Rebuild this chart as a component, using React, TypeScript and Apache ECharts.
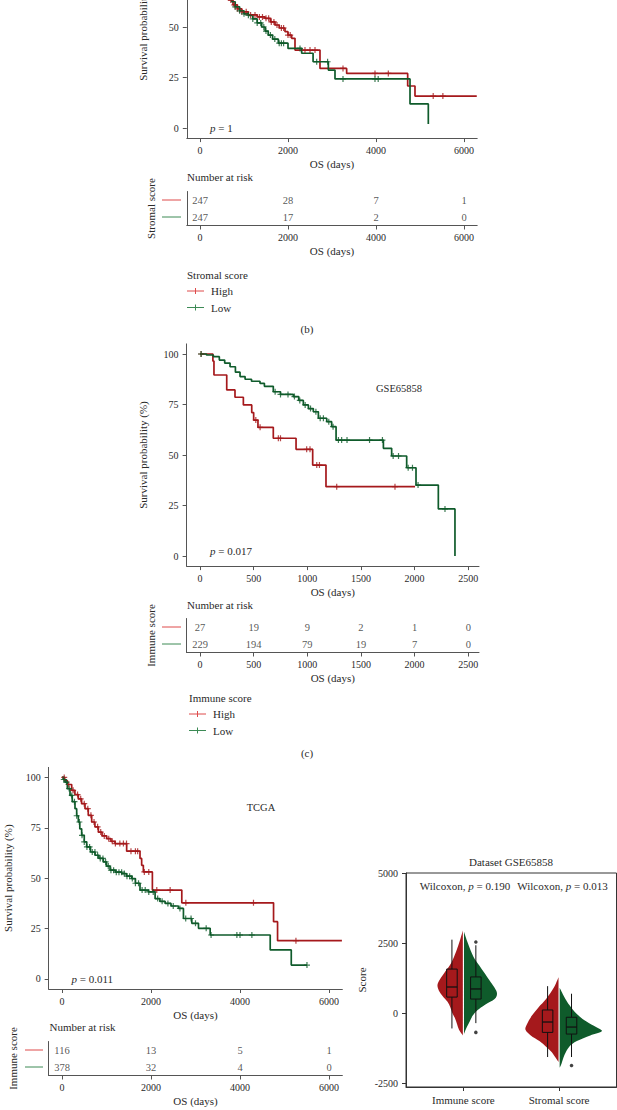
import React, { useEffect, useRef } from "react";
import * as echarts from "echarts";

const FONT = "'Liberation Serif', 'Times New Roman', serif";
const RED = "#A5191C";
const GREEN = "#0F5B2B";
const RED_L = "#DE4B4B";
const GREEN_L = "#3C8A55";
const TXT = "#2a2a2a";
const AX = "#555555";
const OFF = 100;

// ---------- Panel (b): Stromal score ----------
const bTicks = [0, 2000, 4000, 6000];
const bHigh = [[0,100],[80,97.5],[160,94],[240,90.5],[320,86],[400,81],[480,76],[560,70],[644,63.4],[750,61],[850,59],[950,57.5],[1098,56],[1300,55],[1477,54.3],[1600,52.5],[1705,51],[1800,49.5],[1932,47.7],[2000,46],[2083,44.4],[2159,38.6],[2727,29.5],[3333,27],[4720,20.8],[4886,15.8],[6290,15.8]];
const bLow = [[0,100],[80,97],[160,93],[240,89],[320,85],[400,80],[480,76],[560,71],[640,66],[720,62.5],[800,60],[900,58],[1000,56.5],[1100,55.8],[1200,54],[1300,52],[1402,50],[1480,48],[1550,46],[1650,44],[1780,42],[2000,39.4],[2311,37],[2570,32.8],[2917,28.7],[3068,24.3],[4773,11.9],[5189,2]];
const bHighCensor = [700,780,850,950,1050,1150,1250,1350,1420,1500,1560,1620,1680,1750,1850,1900,2000,2050,2386,2500,2614,3250,3977,4280,5300,5520];
const bLowCensor = [700,800,900,1000,1100,1200,1300,1380,1450,1500,1600,1700,1800,1850,1900,2273,2652,2900,3250,3977,4050];
const bRiskHigh = [247, 28, 7, 1];
const bRiskLow = [247, 17, 2, 0];

// ---------- Panel (c): Immune score, GSE65858 ----------
const cTicks = [0, 500, 1000, 1500, 2000, 2500];
const cHigh = [[0,100],[120,96.5],[130,89.6],[249,82.2],[326,78.6],[404,74.8],[482,71],[500,67.3],[540,63.7],[683,58.3],[895,52.8],[1050,45],[1174,34.3],[2004,34.3]];
const cLow = [[0,100],[60,99.5],[124,98.7],[180,97],[230,95.5],[280,93.7],[330,91],[373,88.8],[420,87.5],[480,86.5],[559,85.5],[600,84],[683,81.3],[750,80],[870,78.9],[920,77],[963,74.8],[1010,73],[1056,71.4],[1103,68.2],[1181,66.5],[1227,64],[1268,57.4],[1709,53.3],[1786,49.5],[1926,43.7],[2013,35.1],[2221,23.3],[2376,0]];
const cHighCensor = [10,520,560,730,750,994,1025,1088,1113,1274,1817];
const cLowCensor = [10,700,750,820,880,930,980,1030,1080,1120,1150,1200,1240,1290,1320,1370,1580,1700,1800,1850,1940,1980,2032,2283];
const cRiskHigh = [27, 19, 9, 2, 1, 0];
const cRiskLow = [229, 194, 79, 19, 7, 0];

// ---------- Panel (d): Immune score, TCGA ----------
const dTicks = [0, 2000, 4000, 6000];
const dHigh = [[0,100],[60,98.5],[120,96.5],[218,93.6],[290,91.5],[367,89.4],[440,87],[517,84.5],[590,81.2],[667,77.9],[740,75.5],[817,72.9],[900,71],[1004,69.6],[1100,68.3],[1191,67.2],[1453,63.4],[1753,59.8],[1790,56.4],[1828,53.1],[2031,44.1],[2692,37.8],[4754,28.4],[4844,19],[6290,19]];
const dLow = [[0,100],[30,99],[67,97.7],[120,94.5],[180,91.1],[230,88],[292,84.5],[330,81],[367,77.9],[400,74.5],[442,71.3],[500,68],[555,65.5],[640,63],[742,61.4],[830,59.8],[929,58.1],[1000,56],[1080,54],[1200,53],[1342,52.3],[1450,51],[1567,49.8],[1650,47.5],[1753,44.1],[1942,43.2],[2092,39.9],[2200,38.5],[2317,37.5],[2450,36.2],[2617,35],[2729,30],[2917,27.6],[3067,25.1],[3330,21.8],[4679,14.4],[5152,6.9],[5505,6.9]];
const dHighCensor = [50,150,250,350,420,500,580,650,720,800,870,950,1050,1130,1200,1300,1380,1450,1550,1650,1700,1850,1950,2130,2430,2783,4303,5257];
const dLowCensor = [40,100,160,220,280,330,390,450,500,560,620,680,740,800,860,920,980,1040,1100,1160,1220,1280,1340,1400,1460,1520,1580,1650,1720,1800,1870,1950,2050,2150,2250,2380,2500,2650,2780,2900,3000,3240,3350,3930,4000,4267,5505];
const dRiskHigh = [116, 13, 5, 1];
const dRiskLow = [378, 32, 4, 0];

// ---------- Violin panel: Dataset GSE65858 ----------
const vCategories = ["Immune score", "Stromal score"];
const vTicks = [-2500, 0, 2500, 5000];
const immuneHighProfile = [[2950,0],[2600,0.03],[2200,0.07],[1800,0.12],[1500,0.18],[1200,0.24],[1000,0.265],[800,0.25],[600,0.21],[400,0.16],[200,0.13],[0,0.11],[-200,0.08],[-400,0.06],[-600,0.04],[-800,0]];
const immuneLowProfile = [[2900,0],[2500,0.04],[2000,0.1],[1700,0.16],[1400,0.22],[1100,0.28],[900,0.32],[700,0.345],[500,0.32],[300,0.22],[100,0.14],[-100,0.09],[-300,0.06],[-500,0.03],[-750,0]];
const stromalHighProfile = [[1280,0],[900,0.05],[500,0.13],[200,0.21],[-100,0.28],[-400,0.33],[-600,0.345],[-800,0.29],[-1000,0.2],[-1200,0.13],[-1400,0.07],[-1600,0.03],[-1750,0]];
const stromalLowProfile = [[900,0],[500,0.06],[200,0.12],[-100,0.2],[-300,0.28],[-500,0.38],[-650,0.44],[-800,0.32],[-1000,0.18],[-1200,0.1],[-1500,0.05],[-1800,0.02],[-1950,0]];
const immuneHighBox = [-550, 570, 930, 1570, 2620];
const immuneLowBox = [-360, 500, 860, 1290, 2420];
const stromalHighBox = [-1570, -690, -320, 110, 960];
const stromalLowBox = [-1570, -750, -500, -150, 690];
const immuneLowOutliers = [2540, -690];
const stromalLowOutliers = [-1870];
const wilcoxP = ["0.190", "0.013"];

// ---------- helpers ----------
function km(pts: number[][]) {
  const out: number[][] = [pts[0]];
  for (let i = 1; i < pts.length; i++) {
    out.push([pts[i][0], pts[i - 1][1]]);
    out.push(pts[i]);
  }
  return out;
}
function survAt(pts: number[][], t: number) {
  let s = pts[0][1];
  for (const p of pts) {
    if (p[0] <= t) s = p[1];
    else break;
  }
  return s;
}
const PLUS = "path://M4,0H6V4H10V6H6V10H4V6H0V4H4Z";
const plain = (v: number) => String(v);

const g = (left: number, top: number, width: number, height: number) => ({ left, top: top + OFF, width, height, containLabel: false });

const textStyle = (size: number) => ({ fontSize: size, color: TXT, fontFamily: FONT });

function xAxisVal(gi: number, min: number, max: number, ticks: number[]) {
  return {
    type: "value", gridIndex: gi, min, max,
    axisLine: { show: true, onZero: false, lineStyle: { color: AX, width: 1 } },
    axisTick: { show: true, customValues: ticks, length: 4, lineStyle: { color: AX } },
    axisLabel: { show: true, customValues: ticks, margin: 7, formatter: plain, ...textStyle(10) },
    splitLine: { show: false },
    name: "OS (days)", nameLocation: "middle", nameGap: 20, nameTextStyle: textStyle(11),
  };
}
function yAxisSurv(gi: number, gap: number) {
  return {
    type: "value", gridIndex: gi, min: -5, max: 105,
    axisLine: { show: true, onZero: false, lineStyle: { color: AX, width: 1 } },
    axisTick: { show: true, customValues: [0, 25, 50, 75, 100], length: 4, lineStyle: { color: AX } },
    axisLabel: { show: true, customValues: [0, 25, 50, 75, 100], margin: 8, formatter: plain, ...textStyle(10) },
    splitLine: { show: false },
    name: "Survival probability (%)", nameLocation: "middle", nameGap: gap, nameRotate: 90, nameTextStyle: textStyle(11),
  };
}
function yAxisRisk(gi: number, name: string) {
  return {
    type: "category", gridIndex: gi, data: ["High", "Low"], inverse: true,
    axisLine: { show: true, onZero: false, lineStyle: { color: AX, width: 1 } },
    axisTick: { show: false }, axisLabel: { show: false }, splitLine: { show: false },
    name, nameLocation: "middle", nameGap: 30, nameRotate: 90, nameTextStyle: textStyle(11),
  };
}
function survSeries(ai: number, curve: number[][], censor: number[], color: string, name: string) {
  return [
    {
      type: "line", name, xAxisIndex: ai, yAxisIndex: ai, data: km(curve), showSymbol: false, symbol: "none",
      lineStyle: { color, width: 1.7 }, itemStyle: { color }, z: 3,
    },
    {
      type: "scatter", name, xAxisIndex: ai, yAxisIndex: ai, symbol: PLUS, symbolSize: 6,
      data: censor.map((t) => [t, survAt(curve, t)]), itemStyle: { color }, z: 4,
    },
  ];
}
function riskSeries(ai: number, ticks: number[], high: number[], low: number[]) {
  const data = [
    ...ticks.map((t, i) => [t, "High", high[i]]),
    ...ticks.map((t, i) => [t, "Low", low[i]]),
  ];
  return {
    type: "scatter", xAxisIndex: ai, yAxisIndex: ai, symbolSize: 1, itemStyle: { color: "rgba(0,0,0,0)" },
    data,
    label: { show: true, position: "inside", formatter: (p: any) => String(p.value[2]), fontSize: 10.5, color: TXT, fontFamily: FONT },
  };
}

const VIOLINS = [
  { cat: 1, side: -1, profile: immuneHighProfile, color: RED },
  { cat: 1, side: 1, profile: immuneLowProfile, color: GREEN },
  { cat: 2, side: -1, profile: stromalHighProfile, color: RED },
  { cat: 2, side: 1, profile: stromalLowProfile, color: GREEN },
];
const BOX_OFF = { high: -0.12, low: 0.13 };
const BOXES = [
  { x: 1 + BOX_OFF.high, s: immuneHighBox },
  { x: 1 + BOX_OFF.low, s: immuneLowBox },
  { x: 2 + BOX_OFF.high, s: stromalHighBox },
  { x: 2 + BOX_OFF.low, s: stromalLowBox },
];

function smoothPath(pts: number[][]) {
  let d = `M${pts[0][0]},${pts[0][1]}`;
  for (let i = 0; i < pts.length - 1; i++) {
    const p0 = pts[i - 1] || pts[i], p1 = pts[i], p2 = pts[i + 1], p3 = pts[i + 2] || p2;
    const c1 = [p1[0] + (p2[0] - p0[0]) / 6, p1[1] + (p2[1] - p0[1]) / 6];
    const c2 = [p2[0] - (p3[0] - p1[0]) / 6, p2[1] - (p3[1] - p1[1]) / 6];
    d += ` C${c1[0]},${c1[1]} ${c2[0]},${c2[1]} ${p2[0]},${p2[1]}`;
  }
  return d + " Z";
}

function txt(x: number, y: number, text: string, size = 11, align = "left", extra: any = {}) {
  return {
    type: "text", x, y: y + OFF, silent: true,
    style: { text, fontSize: size, fontFamily: FONT, fill: TXT, align, verticalAlign: "middle", ...extra },
  };
}
function hline(x1: number, x2: number, y: number, color: string) {
  return { type: "line", silent: true, shape: { x1, y1: y + OFF, x2, y2: y + OFF }, style: { stroke: color, lineWidth: 1 } };
}
function legendItem(x: number, y: number, color: string, label: string) {
  return [
    hline(x, x + 17, y, color),
    { type: "line", silent: true, shape: { x1: x + 8.5, y1: y - 3 + OFF, x2: x + 8.5, y2: y + 3 + OFF }, style: { stroke: color, lineWidth: 1 } },
    txt(x + 24, y, label, 11),
  ];
}
const RICH = { i: { fontStyle: "italic", fontSize: 11, fontFamily: FONT, fill: TXT } };

function buildOption() {
  const grids = [
    g(186.8, -84.1, 290.4, 222.2), // b survival
    g(186.8, 191.5, 290.4, 34), // b risk
    g(186.6, 343.9, 292.4, 222.2), // c survival
    g(186.6, 618.5, 292.4, 34), // c risk
    g(48.65, 767.4, 293.7, 221.6), // d survival
    g(48.65, 1041.5, 293.7, 34), // d risk
    { left: 406, top: 873 + OFF, width: 210.5, height: 214, show: true, borderColor: "#333", borderWidth: 1 }, // violin
  ];
  const xAxis: any[] = [
    xAxisVal(0, -300, 6300, bTicks),
    xAxisVal(1, -300, 6300, bTicks),
    xAxisVal(2, -125, 2600, cTicks),
    xAxisVal(3, -125, 2600, cTicks),
    xAxisVal(4, -300, 6300, dTicks),
    xAxisVal(5, -300, 6300, dTicks),
    {
      type: "value", gridIndex: 6, min: 0.4, max: 2.6,
      axisLine: { show: true, onZero: false, lineStyle: { color: "#333" } },
      axisTick: { show: true, customValues: [1, 2], length: 4, lineStyle: { color: "#333" } },
      axisLabel: { show: true, customValues: [1, 2], margin: 7, formatter: (v: number) => vCategories[Math.round(v) - 1], ...textStyle(11) },
      splitLine: { show: false },
    },
  ];
  const yAxis: any[] = [
    yAxisSurv(0, 38),
    yAxisRisk(1, "Stromal score"),
    yAxisSurv(2, 38),
    yAxisRisk(3, "Immune score"),
    yAxisSurv(4, 35),
    yAxisRisk(5, "Immune score"),
    {
      type: "value", gridIndex: 6, min: -2640, max: 5000,
      axisLine: { show: true, onZero: false, lineStyle: { color: "#333" } },
      axisTick: { show: true, customValues: vTicks, length: 4, lineStyle: { color: "#333" } },
      axisLabel: { show: true, customValues: vTicks, margin: 8, formatter: plain, ...textStyle(10) },
      splitLine: { show: false },
      name: "Score", nameLocation: "middle", nameGap: 39, nameRotate: 90, nameTextStyle: textStyle(11),
    },
  ];

  const series: any[] = [
    ...survSeries(0, bHigh, bHighCensor, RED, "High"),
    ...survSeries(0, bLow, bLowCensor, GREEN, "Low"),
    riskSeries(1, bTicks, bRiskHigh, bRiskLow),
    ...survSeries(2, cHigh, cHighCensor, RED, "High"),
    ...survSeries(2, cLow, cLowCensor, GREEN, "Low"),
    riskSeries(3, cTicks, cRiskHigh, cRiskLow),
    ...survSeries(4, dHigh, dHighCensor, RED, "High"),
    ...survSeries(4, dLow, dLowCensor, GREEN, "Low"),
    riskSeries(5, dTicks, dRiskHigh, dRiskLow),
    {
      type: "custom", xAxisIndex: 6, yAxisIndex: 6,
      data: VIOLINS.map((v, i) => [v.cat, i]),
      renderItem: (_p: any, api: any) => {
        const v = VIOLINS[api.value(1)];
        const pts = v.profile.map(([s, w]) => api.coord([v.cat + v.side * (0.006 + w), s]));
        return { type: "path", shape: { pathData: smoothPath(pts) }, style: { fill: v.color, stroke: "none" } };
      },
      z: 2,
    },
    {
      type: "custom", xAxisIndex: 6, yAxisIndex: 6,
      data: BOXES.map((b, i) => [b.x, i]),
      renderItem: (_p: any, api: any) => {
        const b = BOXES[api.value(1)];
        const xl = api.coord([b.x - 0.055, 0])[0];
        const xr = api.coord([b.x + 0.055, 0])[0];
        const xc = api.coord([b.x, 0])[0];
        const y = (val: number) => api.coord([b.x, val])[1];
        const st = { stroke: "#111", lineWidth: 1, fill: "none" };
        return {
          type: "group",
          children: [
            { type: "line", shape: { x1: xc, y1: y(b.s[4]), x2: xc, y2: y(b.s[3]) }, style: st },
            { type: "line", shape: { x1: xc, y1: y(b.s[1]), x2: xc, y2: y(b.s[0]) }, style: st },
            { type: "rect", shape: { x: xl, y: y(b.s[3]), width: xr - xl, height: y(b.s[1]) - y(b.s[3]) }, style: st },
            { type: "line", shape: { x1: xl, y1: y(b.s[2]), x2: xr, y2: y(b.s[2]) }, style: { ...st, lineWidth: 1.3 } },
          ],
        };
      },
      z: 3,
    },
    {
      type: "scatter", xAxisIndex: 6, yAxisIndex: 6, symbol: "circle", symbolSize: 3.5,
      itemStyle: { color: "#111" },
      data: [
        ...immuneLowOutliers.map((v) => [1 + BOX_OFF.low, v]),
        ...stromalLowOutliers.map((v) => [2 + BOX_OFF.low, v]),
      ],
      z: 4,
    },
  ];

  const elements: any[] = [
    // panel b
    txt(210, 128, "{i|p} = 1", 11, "left", { rich: RICH }),
    txt(187, 177, "Number at risk", 11),
    hline(162, 181, 200, RED_L),
    hline(162, 181, 217, GREEN_L),
    txt(187, 275, "Stromal score", 11),
    ...legendItem(187, 291, RED_L, "High"),
    ...legendItem(187, 307.5, GREEN_L, "Low"),
    txt(307, 329, "(b)", 11, "center"),
    // panel c
    txt(399, 388, "GSE65858", 10.5, "center"),
    txt(210, 551, "{i|p} = 0.017", 11, "left", { rich: RICH }),
    txt(187, 605, "Number at risk", 11),
    hline(162, 181, 627, RED_L),
    hline(162, 181, 644, GREEN_L),
    txt(189, 698, "Immune score", 11),
    ...legendItem(189, 714, RED_L, "High"),
    ...legendItem(189, 730.5, GREEN_L, "Low"),
    txt(307, 753, "(c)", 11, "center"),
    // panel d
    txt(261, 807, "TCGA", 10.5, "center"),
    txt(71.5, 979, "{i|p} = 0.011", 11, "left", { rich: RICH }),
    txt(49.5, 1027, "Number at risk", 11),
    hline(25, 43, 1050, RED_L),
    hline(25, 43, 1067, GREEN_L),
    // violin
    txt(511, 862, "Dataset GSE65858", 11, "center"),
    txt(465, 886, `Wilcoxon, {i|p} = ${wilcoxP[0]}`, 11, "center", { rich: RICH }),
    txt(562.5, 886, `Wilcoxon, {i|p} = ${wilcoxP[1]}`, 11, "center", { rich: RICH }),
  ];

  return {
    animation: false,
    backgroundColor: "#ffffff",
    textStyle: { fontFamily: FONT },
    grid: grids,
    xAxis,
    yAxis,
    series,
    graphic: { elements },
  };
}

export default function App() {
  const ref = useRef<HTMLDivElement>(null);
  useEffect(() => {
    const chart = echarts.init(ref.current!, null, { renderer: "svg" });
    chart.setOption(buildOption() as any);
    return () => chart.dispose();
  }, []);
  return (
    <div
      ref={ref}
      style={{ position: "absolute", left: 0, top: -OFF, width: 617, height: 1110 + OFF }}
    />
  );
}
